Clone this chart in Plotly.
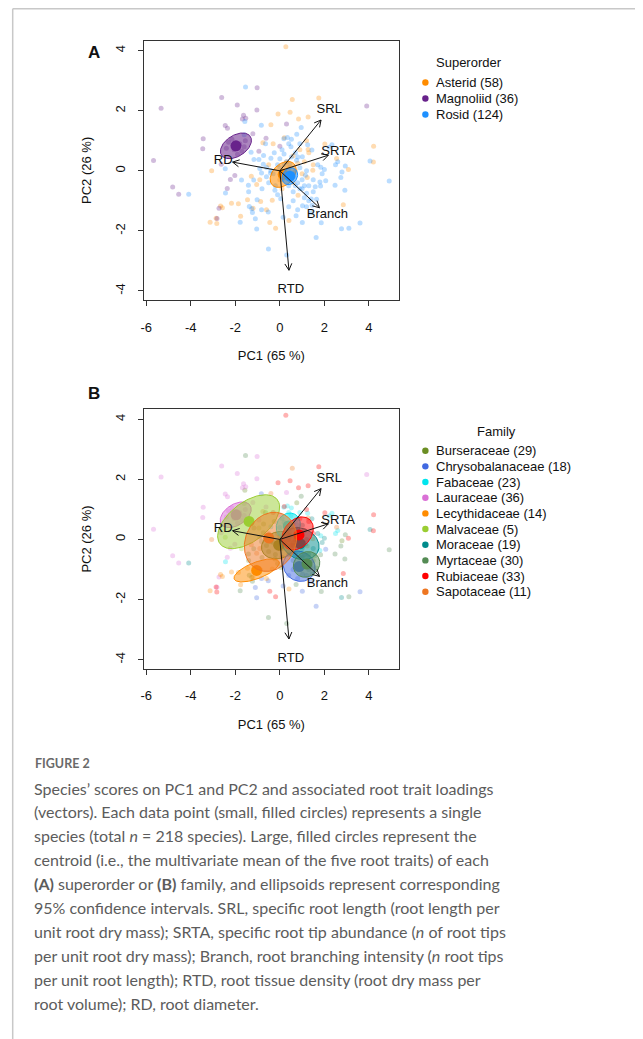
import numpy as np
import plotly.graph_objects as go

# page is 643x1039; the browser adds an 8 px body margin, so the figure is 8 px smaller
PAGE_OFF = 8
W, H = 643 - PAGE_OFF, 1039 - PAGE_OFF

# ---------------- data ----------------
LAURACEAE = [(-5.67, 0.34), (-5.33, 2.08), (-4.81, -0.54), (-4.54, -0.78), (-3.44, 1.07), (-3.46, 0.73),
             (-2.61, 2.44), (-2.45, 1.51), (-2.35, 1.42), (-1.91, 2.19), (-1.63, 1.85), (-1.53, 1.75),
             (-1.02, 2.76), (-1.03, 2.02), (-1.21, 1.23), (-0.62, 1.08), (-0.94, 0.65), (-2.63, 0.22),
             (-2.22, -0.29), (-2.02, -0.16), (-2.36, -0.59), (-2.73, -1.25), (-2.82, -1.59), (3.90, 2.16),
             (0.30, 1.56), (0.00, 0.82), (-1.68, 1.72), (-2.30, 0.95), (-1.70, 0.65), (-2.05, 0.70),
             (-1.55, 1.00), (-2.15, 1.05), (-1.80, 0.90), (-2.40, 0.75), (-1.90, 0.55), (-1.60, 0.80)]
RUBIACEAE = [(0.27, 4.13), (1.75, 2.42), (0.46, 1.95), (-0.08, 1.89), (0.84, 1.72), (1.27, 1.79),
             (2.02, 0.89), (4.21, 0.82), (4.20, 0.29), (3.08, 0.04), (2.85, -1.13), (-2.86, -1.58),
             (-2.83, -1.75), (-0.45, -1.72), (-0.19, -1.91), (0.60, 0.50), (1.10, 0.30), (0.70, 0.00),
             (1.30, 0.60), (0.50, -0.20), (1.00, -0.10), (1.50, 0.20), (0.30, 0.30), (0.90, 0.70),
             (0.20, -0.10), (0.40, 0.10), (0.10, -0.60), (0.80, 0.25), (1.20, 1.00), (0.20, 1.10),
             (0.00, -0.30), (-0.30, 0.90), (0.60, -0.40)]
LECYTHIDACEAE = [(-3.13, -1.71), (-2.66, -1.17), (-2.58, -1.23), (-2.17, -1.08), (-1.86, -1.10), (-1.76, -1.51),
                 (-1.45, -0.96), (-0.86, -1.02), (0.41, -1.65), (-0.34, -0.98), (1.48, 0.02), (1.23, -0.22),
                 (-1.20, -1.25), (-0.60, -1.30)]
SAPOTACEAE = [(-3.06, 0.00), (0.56, 2.37), (-0.76, 0.93), (-0.40, 1.53), (2.55, 0.41), (1.27, 0.71),
              (-1.28, -0.18), (-1.04, -0.46), (-0.50, 0.20), (-0.90, -0.30), (0.82, -0.81)]
MYRTACEAE = [(-1.54, 2.79), (-0.90, 0.08), (-0.82, -0.07), (-1.17, -0.31), (-1.23, -1.39), (-1.78, -1.71),
             (-0.51, -2.60), (-1.37, -1.19), (0.96, 1.44), (4.91, -0.34), (2.94, 0.16), (2.74, -0.22),
             (1.59, -0.53), (1.83, -0.51), (2.48, -0.48), (2.92, -0.65), (1.41, -0.94), (0.73, -1.50),
             (1.86, -1.73), (3.10, -1.91), (0.31, -2.80), (1.00, -0.60), (1.30, -1.00), (1.50, -0.70),
             (1.10, -0.90), (0.80, -0.40), (1.20, -0.75), (1.45, -1.15), (0.60, -0.70), (1.65, -0.95)]
BURSERACEAE = [(-1.57, 1.64), (-1.16, 0.38), (-0.73, 0.51), (-0.64, 0.90), (-0.74, 0.22), (-0.59, 0.11),
               (-0.42, -0.07), (-1.41, -0.48), (-1.02, -0.96), (-1.40, -0.70), (-1.26, -1.26), (0.76, 1.22),
               (2.79, -0.04), (-0.25, 0.60), (0.04, -0.93), (-0.22, -0.65), (-0.30, -0.10), (0.10, -0.30),
               (-0.50, -0.40), (0.30, -0.20), (-0.20, -0.50), (0.00, 0.10), (-0.60, -0.20), (0.40, -0.50),
               (-0.10, -0.80), (0.20, 0.20), (-0.80, -0.60), (0.60, -0.10), (-0.40, 0.00)]
CHRYSOBALANACEAE = [(-0.83, 1.52), (-0.82, -1.30), (-0.52, -1.37), (-1.10, -1.60), (-1.04, -1.94), (2.06, -0.33),
                    (1.02, -1.16), (1.01, -1.72), (3.60, -1.74), (1.63, -2.22), (0.15, -1.55), (0.60, -1.00),
                    (1.20, -1.20), (0.90, -0.60), (0.40, -1.20), (1.40, -1.40), (0.80, -1.30), (1.10, -0.50)]
FABACEAE = [(-0.40, 0.42), (-2.44, -0.74), (0.34, 1.11), (0.18, 1.07), (0.52, 1.05), (1.25, 0.87),
            (2.34, 0.87), (2.22, 0.78), (1.84, 0.12), (0.81, 0.46), (0.52, 0.46), (0.19, 0.56),
            (1.80, -0.37), (0.10, 0.70), (0.50, 0.80), (0.70, 0.60), (0.30, 0.30), (0.00, 0.40),
            (0.90, 0.90), (0.40, 0.90), (2.60, 0.30), (2.50, 0.20), (-0.10, 0.20)]
MORACEAE = [(-4.09, -0.78), (1.44, 0.69), (4.05, 0.33), (2.00, 0.04), (1.01, 0.47), (0.44, 0.22),
            (2.77, -1.93), (0.60, -0.20), (1.20, 0.00), (1.50, -0.30), (0.90, 0.10), (1.30, -0.50),
            (0.40, 0.00), (1.70, 0.20), (0.70, -0.50), (1.00, -0.30), (0.75, 0.35), (1.15, -0.15),
            (1.90, -0.10)]
MALVACEAE = [(-2.45, 0.07), (-1.29, 0.62), (-0.94, 0.38), (-1.72, -0.31), (-1.60, 1.20)]

FAMILIES = ["Burseraceae", "Chrysobalanaceae", "Fabaceae", "Lauraceae", "Lecythidaceae",
            "Malvaceae", "Moraceae", "Myrtaceae", "Rubiaceae", "Sapotaceae"]
FAMILY_POINTS = [BURSERACEAE, CHRYSOBALANACEAE, FABACEAE, LAURACEAE, LECYTHIDACEAE,
                 MALVACEAE, MORACEAE, MYRTACEAE, RUBIACEAE, SAPOTACEAE]
FAMILY_COLORS = ["#6B8E23", "#4169E1", "#00E5EE", "#DA70D6", "#FF8C00",
                 "#9ACD32", "#008B8B", "#548B54", "#FF0000", "#EE7621"]
FAMILY_SUPER = ["Rosid", "Rosid", "Rosid", "Magnoliid", "Asterid",
                "Rosid", "Rosid", "Rosid", "Asterid", "Asterid"]
# family centroids and 95% ellipses (centre, semi-axes, rotation in degrees)
FAM_CX = [-0.05, 0.87, 0.38, -1.96, -1.04, -1.38, 0.92, 1.22, 0.86, -0.50]
FAM_CY = [-0.19, -0.90, 0.45, 0.82, -1.03, 0.60, -0.14, -0.82, 0.15, 0.05]
FAM_A = [0.78, 0.72, 0.55, 0.73, 1.05, 1.50, 0.85, 0.60, 0.74, 1.20]
FAM_B = [0.45, 0.50, 0.42, 0.37, 0.28, 0.70, 0.52, 0.42, 0.50, 0.95]
FAM_ANG = [8, -8, 15, 20, 15, 25, -10, 10, 25, 20]
FAM_ECX = [-0.05, 0.87, 0.38, -1.98, -1.04, -1.40, 0.92, 1.20, 0.80, -0.42]
FAM_ECY = [-0.19, -0.89, 0.45, 0.82, -1.03, 0.59, -0.14, -0.83, 0.20, -0.08]

SUPERORDERS = ["Asterid", "Magnoliid", "Rosid"]
SUPER_COLORS = ["#FF8C00", "#68228B", "#1E90FF"]
SUPER_CX = [0.15, -1.97, 0.45]
SUPER_CY = [-0.12, 0.83, -0.18]
SUPER_A = [0.62, 0.73, 0.36]
SUPER_B = [0.38, 0.37, 0.27]
SUPER_ANG = [25, 20, 20]

TRAITS = ["SRL", "SRTA", "Branch", "RTD", "RD"]
LOAD_PC1 = [1.85, 2.18, 1.78, 0.41, -2.12]
LOAD_PC2 = [1.69, 0.52, -1.23, -3.31, 0.29]

X_TICKS = [-6, -4, -2, 0, 2, 4]
X_TICK_TEXT = ["-6", "-4", "-2", "0", "2", "4"]
Y_TICKS = [-4, -2, 0, 2, 4]
Y_TICK_TEXT = ["-4", "-2", "0", "2", "4"]
X_RANGE = [-6.09, 5.33]
Y_RANGE = [-4.30, 4.33]

# ---------------- layout geometry (page px) ----------------
BOX_X0, BOX_X1 = 141, 397
A_Y0, A_Y1 = 40.7, 300.0
B_Y0, B_Y1 = 409.3, 668.7
SX = (BOX_X1 - BOX_X0) / (X_RANGE[1] - X_RANGE[0])
SY = (A_Y1 - A_Y0) / (Y_RANGE[1] - Y_RANGE[0])


def px(x):
    return (x - PAGE_OFF) / W


def py(y):
    return 1 - (y - PAGE_OFF) / H


def rgba(hex_c, a):
    h = hex_c.lstrip("#")
    r, g, b = int(h[0:2], 16), int(h[2:4], 16), int(h[4:6], 16)
    return f"rgba({r},{g},{b},{a})"


def ellipse(cx, cy, a, b, ang):
    t = np.linspace(0, 2 * np.pi, 120)
    th = np.deg2rad(ang)
    x = cx + a * np.cos(t) * np.cos(th) - b * np.sin(t) * np.sin(th)
    y = cy + a * np.cos(t) * np.sin(th) + b * np.sin(t) * np.cos(th)
    return x, y


fig = go.Figure()
FONT = "Liberation Sans, Arial, sans-serif"


def add_arrows(xa, ya):
    xs, ys = [], []
    for lx, ly in zip(LOAD_PC1, LOAD_PC2):
        xs += [0, lx, None]
        ys += [0, ly, None]
        ang = np.arctan2(ly * SY, lx * SX)
        L = 7.5
        for d in (np.deg2rad(28), -np.deg2rad(28)):
            hx = lx - L * np.cos(ang + d) / SX
            hy = ly - L * np.sin(ang + d) / SY
            xs += [lx, hx, None]
            ys += [ly, hy, None]
    fig.add_trace(go.Scatter(x=xs, y=ys, mode="lines", line=dict(color="#111", width=1),
                             xaxis=xa, yaxis=ya, showlegend=False, hoverinfo="skip"))
    fig.add_trace(go.Scatter(x=[v * 1.2 for v in LOAD_PC1], y=[v * 1.2 for v in LOAD_PC2],
                             text=TRAITS, mode="text", textfont=dict(size=13, color="#111", family=FONT),
                             xaxis=xa, yaxis=ya, showlegend=False, hoverinfo="skip"))


def add_group_ellipse(cx, cy, ecx, ecy, a, b, ang, col, alpha, xa, ya):
    ex, ey = ellipse(ecx, ecy, a, b, ang)
    fig.add_trace(go.Scatter(x=ex, y=ey, mode="lines", fill="toself", fillcolor=rgba(col, alpha),
                             line=dict(color=col, width=1), xaxis=xa, yaxis=ya,
                             showlegend=False, hoverinfo="skip"))
    fig.add_trace(go.Scatter(x=[cx], y=[cy], mode="markers", marker=dict(size=11, color=col),
                             xaxis=xa, yaxis=ya, showlegend=False))


# ---------------- panel A ----------------
for so, col in zip(SUPERORDERS, SUPER_COLORS):
    pts = [p for fam, pl in zip(FAMILY_SUPER, FAMILY_POINTS) if fam == so for p in pl]
    fig.add_trace(go.Scatter(x=[p[0] for p in pts], y=[p[1] for p in pts], mode="markers",
                             marker=dict(size=5, color=rgba(col, 0.3)),
                             xaxis="x", yaxis="y", showlegend=False, name=so))
for i, col in enumerate(SUPER_COLORS):
    add_group_ellipse(SUPER_CX[i], SUPER_CY[i], SUPER_CX[i], SUPER_CY[i], SUPER_A[i], SUPER_B[i],
                      SUPER_ANG[i], col, 0.55, "x", "y")
add_arrows("x", "y")

# ---------------- panel B ----------------
for fam, pl, col in zip(FAMILIES, FAMILY_POINTS, FAMILY_COLORS):
    fig.add_trace(go.Scatter(x=[p[0] for p in pl], y=[p[1] for p in pl], mode="markers",
                             marker=dict(size=5, color=rgba(col, 0.3)),
                             xaxis="x2", yaxis="y2", showlegend=False, name=fam))
for i, col in enumerate(FAMILY_COLORS):
    add_group_ellipse(FAM_CX[i], FAM_CY[i], FAM_ECX[i], FAM_ECY[i], FAM_A[i], FAM_B[i],
                      FAM_ANG[i], col, 0.5, "x2", "y2")
add_arrows("x2", "y2")

# ---------------- axes ----------------
ax_common = dict(showgrid=False, zeroline=False, showline=True, mirror=True, linecolor="#333",
                 linewidth=1, ticks="outside", ticklen=5, tickcolor="#333",
                 tickfont=dict(size=13, color="#111", family=FONT))
title_font = dict(size=13, color="#111", family=FONT)
fig.update_layout(
    xaxis=dict(domain=[px(BOX_X0), px(BOX_X1)], range=X_RANGE, tickvals=X_TICKS, ticktext=X_TICK_TEXT,
               anchor="y", ticklabelstandoff=10,
               title=dict(text="PC1 (65 %)", standoff=17, font=title_font), **ax_common),
    yaxis=dict(domain=[py(A_Y1), py(A_Y0)], range=Y_RANGE, tickvals=Y_TICKS, ticktext=Y_TICK_TEXT,
               anchor="x", tickangle=-90, ticklabelstandoff=8,
               title=dict(text="PC2 (26 %)", standoff=18, font=title_font), **ax_common),
    xaxis2=dict(domain=[px(BOX_X0), px(BOX_X1)], range=X_RANGE, tickvals=X_TICKS, ticktext=X_TICK_TEXT,
                anchor="y2", ticklabelstandoff=10,
                title=dict(text="PC1 (65 %)", standoff=17, font=title_font), **ax_common),
    yaxis2=dict(domain=[py(B_Y1), py(B_Y0)], range=Y_RANGE, tickvals=Y_TICKS, ticktext=Y_TICK_TEXT,
                anchor="x2", tickangle=-90, ticklabelstandoff=8,
                title=dict(text="PC2 (26 %)", standoff=18, font=title_font), **ax_common),
)

annotations = []
shapes = []


def txt(x, y, s, size=13, color="#111", xanchor="left", family=FONT):
    annotations.append(dict(x=px(x), y=py(y), xref="paper", yref="paper", text=s, showarrow=False,
                            xanchor=xanchor, yanchor="middle",
                            font=dict(size=size, color=color, family=family)))


txt(91, 52, "<b>A</b>", size=17, xanchor="center")
txt(91, 393, "<b>B</b>", size=17, xanchor="center")

# legend A
txt(433, 62, "Superorder", size=13)
SUPER_COUNTS = [sum(len(pl) for f, pl in zip(FAMILY_SUPER, FAMILY_POINTS) if f == s) for s in SUPERORDERS]
for k, (s, c, n) in enumerate(zip(SUPERORDERS, SUPER_COLORS, SUPER_COUNTS)):
    yy = 82.5 + 16 * k
    shapes.append(dict(type="circle", xref="paper", yref="paper", xsizemode="pixel", ysizemode="pixel",
                       xanchor=px(424), yanchor=py(yy), x0=-3.2, x1=3.2, y0=-3.2, y1=3.2,
                       fillcolor=c, line=dict(width=0)))
    txt(433, yy, f"{s} ({n})", size=13)

# legend B
txt(496, 431, "Family", size=13, xanchor="center")
for k, (f, c, pl) in enumerate(zip(FAMILIES, FAMILY_COLORS, FAMILY_POINTS)):
    yy = 450.7 + 15.67 * k
    shapes.append(dict(type="circle", xref="paper", yref="paper", xsizemode="pixel", ysizemode="pixel",
                       xanchor=px(424), yanchor=py(yy), x0=-3.2, x1=3.2, y0=-3.2, y1=3.2,
                       fillcolor=c, line=dict(width=0)))
    txt(433, yy, f"{f} ({len(pl)})", size=13)

# caption
CAP_FONT = "Lato, Open Sans, sans-serif"
txt(29, 763, "<b>FIGURE 2</b>", size=12.5, color="#6a6a6a", family=CAP_FONT)
CAPTION = [
    "Species’ scores on PC1 and PC2 and associated root trait loadings",
    "(vectors). Each data point (small, filled circles) represents a single",
    "species (total <i>n</i> = 218 species). Large, filled circles represent the",
    "centroid (i.e., the multivariate mean of the five root traits) of each",
    "<b>(A)</b> superorder or <b>(B)</b> family, and ellipsoids represent corresponding",
    "95% confidence intervals. SRL, specific root length (root length per",
    "unit root dry mass); SRTA, specific root tip abundance (<i>n</i> of root tips",
    "per unit root dry mass); Branch, root branching intensity (<i>n</i> root tips",
    "per unit root length); RTD, root tissue density (root dry mass per",
    "root volume); RD, root diameter.",
]
for k, line in enumerate(CAPTION):
    txt(28, 788 + 23.9 * k, line, size=16, color="#5c5c5c", family=CAP_FONT)

# page border
shapes.append(dict(type="line", xref="paper", yref="paper", x0=px(8.7), x1=1, y0=py(8.7), y1=py(8.7),
                   line=dict(color="#c8c8c8", width=1.5)))
shapes.append(dict(type="line", xref="paper", yref="paper", x0=px(8.7), x1=px(8.7), y0=py(8.7), y1=0,
                   line=dict(color="#c8c8c8", width=1.5)))

fig.update_layout(width=W, height=H, margin=dict(l=0, r=0, t=0, b=0),
                  paper_bgcolor="white", plot_bgcolor="white", showlegend=False,
                  annotations=annotations, shapes=shapes)

fig.write_html("out.html")
